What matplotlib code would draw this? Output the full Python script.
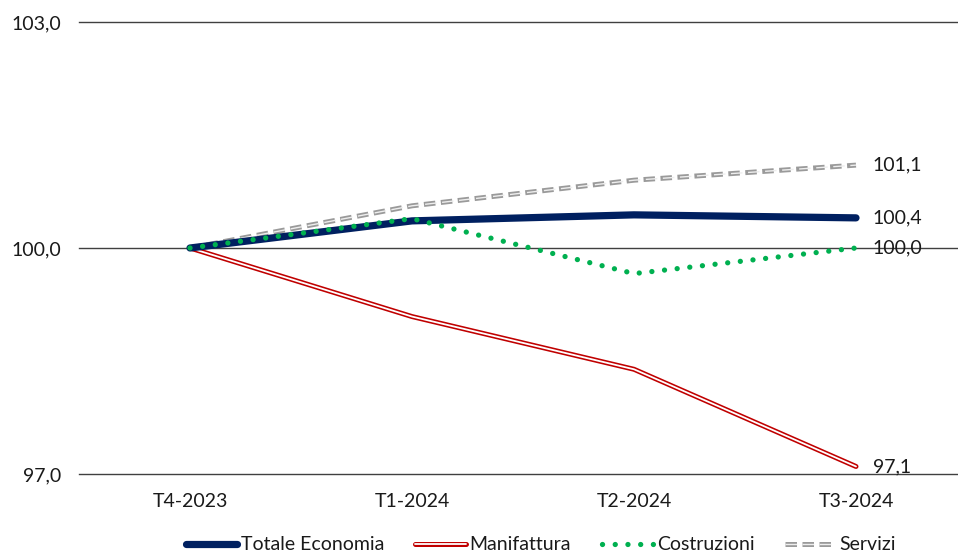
import matplotlib
matplotlib.use("Agg")
import matplotlib.pyplot as plt
from matplotlib.lines import Line2D

plt.rcParams['font.family'] = ['Lato', 'DejaVu Sans']

quarters = ["T4-2023", "T1-2024", "T2-2024", "T3-2024"]
totale = [100.0, 100.36, 100.44, 100.4]
manifattura = [100.0, 99.09, 98.39, 97.1]
costruzioni = [100.0, 100.39, 99.66, 100.0]
servizi = [100.0, 100.56, 100.9, 101.1]
yticks = [97.0, 100.0, 103.0]

navy = "#002060"
red = "#c00000"
green = "#00b050"
gray = "#9a9a9a"

fig = plt.figure(figsize=(9.58, 5.57), dpi=100)
ax = fig.add_axes([79 / 958, 83 / 557, 888 / 958, 452 / 557])
xs = range(len(quarters))

for v in yticks:
    ax.axhline(v, color="#404040", lw=1.0, zorder=1, clip_on=False)

# servizi: grey dashes with a light core
ax.plot(xs, servizi, color=gray, lw=3.6, dashes=(2.3, 1.1), zorder=2)
ax.plot(xs, servizi, color="#eeeeee", lw=1.0, dashes=(8.3, 4.0), zorder=2.1)

# manifattura: double red line
ax.plot(xs, manifattura, color=red, lw=3.6, solid_capstyle="round",
        solid_joinstyle="round", zorder=3)
ax.plot(xs, manifattura, color="white", lw=1.3, solid_capstyle="round",
        solid_joinstyle="round", zorder=3.1)

ax.plot(xs, totale, color=navy, lw=5.2, solid_capstyle="round",
        solid_joinstyle="round", zorder=4)

ax.plot(xs, costruzioni, color=green, lw=3.8, linestyle=(0, (0.01, 2.4)),
        dash_capstyle="round", zorder=5)

for vals in (totale, manifattura, costruzioni, servizi):
    ax.annotate(f"{vals[-1]:.1f}".replace(".", ","), (3, vals[-1]),
                xytext=(12, 0), textcoords="offset points",
                va="center", ha="left", fontsize=14, color="#1a1a1a")

ax.set_xlim(-0.5, 3.5)
ax.set_ylim(97, 103)
ax.set_yticks(yticks)
ax.set_yticklabels([f"{v:.1f}".replace(".", ",") for v in yticks])
ax.set_xticks(list(xs))
ax.set_xticklabels(quarters)
ax.tick_params(axis="both", length=0, labelsize=14, labelcolor="#1a1a1a")
ax.tick_params(axis="y", pad=13)
ax.tick_params(axis="x", pad=14)
for s in ax.spines.values():
    s.set_visible(False)

handles = [
    Line2D([], [], color=navy, lw=5.2, solid_capstyle="round"),
    (Line2D([], [], color=red, lw=3.6, solid_capstyle="round"),
     Line2D([], [], color="white", lw=1.3, solid_capstyle="round")),
    Line2D([], [], color=green, lw=3.8, linestyle=(0, (0.01, 2.4)), dash_capstyle="round"),
    (Line2D([], [], color=gray, lw=3.6, dashes=(2.3, 1.1)),
     Line2D([], [], color="#eeeeee", lw=1.0, dashes=(8.3, 4.0))),
]
labels = ["Totale Economia", "Manifattura", "Costruzioni", "Servizi"]
fig.legend(handles, labels, loc="lower center", bbox_to_anchor=(0.565, -0.025), ncol=4,
           frameon=False, fontsize=14, handlelength=2.6, handletextpad=0.2,
           columnspacing=1.6, labelcolor="#1a1a1a")

fig.savefig("out.png", dpi=100)
